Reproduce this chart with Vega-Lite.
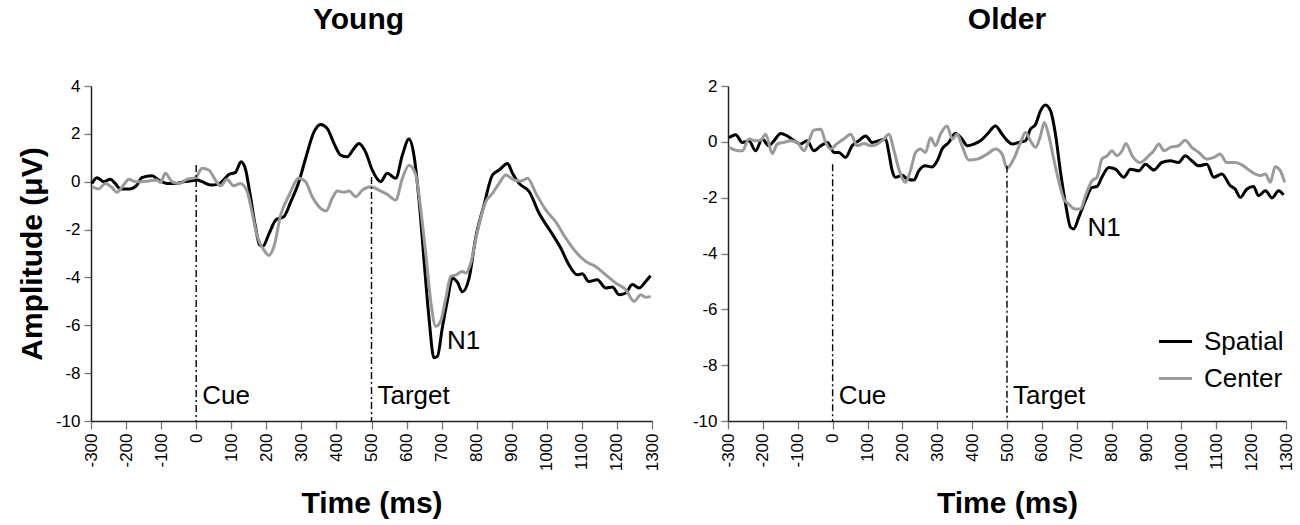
{
  "$schema": "https://vega.github.io/schema/vega-lite/v6.json",
  "background": "white",
  "padding": {"left": 17, "top": 5, "right": 4, "bottom": 0},
  "spacing": 32,
  "config": {
    "view": {"stroke": null},
    "font": "Liberation Sans",
    "title": {"fontSize": 30, "fontWeight": "bold", "offset": 42, "color": "black"},
    "axis": {
      "grid": false,
      "labelFont": "Liberation Sans",
      "labelFontSize": 17,
      "labelColor": "black",
      "labelOverlap": false,
      "labelFlush": false,
      "titleFont": "Liberation Sans",
      "titleFontSize": 30,
      "titleFontWeight": "bold",
      "titleColor": "black",
      "domainColor": "#222",
      "domainWidth": 1.5,
      "tickColor": "#777",
      "tickWidth": 1.3
    }
  },
  "resolve": {"scale": {"color": "independent"}},
  "datasets": {
    "erp": [
      {"g":"Young","c":"Spatial","t":-297,"a":-0.07},{"g":"Young","c":"Spatial","t":-283,"a":0.17},{"g":"Young","c":"Spatial","t":-264,"a":0},{"g":"Young","c":"Spatial","t":-245,"a":0.1},{"g":"Young","c":"Spatial","t":-231,"a":-0.07},{"g":"Young","c":"Spatial","t":-216,"a":-0.3},{"g":"Young","c":"Spatial","t":-188,"a":-0.3},{"g":"Young","c":"Spatial","t":-169,"a":-0.14},{"g":"Young","c":"Spatial","t":-155,"a":0.17},{"g":"Young","c":"Spatial","t":-126,"a":0.25},{"g":"Young","c":"Spatial","t":-107,"a":0.07},{"g":"Young","c":"Spatial","t":-83,"a":-0.07},{"g":"Young","c":"Spatial","t":-55,"a":-0.07},{"g":"Young","c":"Spatial","t":-36,"a":0},{"g":"Young","c":"Spatial","t":-17,"a":0.03},{"g":"Young","c":"Spatial","t":3,"a":0.07},{"g":"Young","c":"Spatial","t":17,"a":0},{"g":"Young","c":"Spatial","t":41,"a":-0.14},{"g":"Young","c":"Spatial","t":64,"a":-0.1},{"g":"Young","c":"Spatial","t":78,"a":0.07},{"g":"Young","c":"Spatial","t":93,"a":0.3},{"g":"Young","c":"Spatial","t":112,"a":0.39},{"g":"Young","c":"Spatial","t":128,"a":0.83},{"g":"Young","c":"Spatial","t":140,"a":0.55},{"g":"Young","c":"Spatial","t":154,"a":-0.55},{"g":"Young","c":"Spatial","t":168,"a":-1.8},{"g":"Young","c":"Spatial","t":181,"a":-2.64},{"g":"Young","c":"Spatial","t":190,"a":-2.7},{"g":"Young","c":"Spatial","t":207,"a":-2.2},{"g":"Young","c":"Spatial","t":227,"a":-1.6},{"g":"Young","c":"Spatial","t":250,"a":-1.46},{"g":"Young","c":"Spatial","t":270,"a":-0.83},{"g":"Young","c":"Spatial","t":293,"a":0},{"g":"Young","c":"Spatial","t":312,"a":0.97},{"g":"Young","c":"Spatial","t":336,"a":2.08},{"g":"Young","c":"Spatial","t":355,"a":2.39},{"g":"Young","c":"Spatial","t":374,"a":2.22},{"g":"Young","c":"Spatial","t":393,"a":1.6},{"g":"Young","c":"Spatial","t":412,"a":1.11},{"g":"Young","c":"Spatial","t":431,"a":1.04},{"g":"Young","c":"Spatial","t":450,"a":1.39},{"g":"Young","c":"Spatial","t":464,"a":1.6},{"g":"Young","c":"Spatial","t":483,"a":1.25},{"g":"Young","c":"Spatial","t":502,"a":0.49},{"g":"Young","c":"Spatial","t":526,"a":0},{"g":"Young","c":"Spatial","t":545,"a":0.35},{"g":"Young","c":"Spatial","t":569,"a":0.14},{"g":"Young","c":"Spatial","t":588,"a":1.11},{"g":"Young","c":"Spatial","t":607,"a":1.78},{"g":"Young","c":"Spatial","t":621,"a":1.11},{"g":"Young","c":"Spatial","t":636,"a":-0.83},{"g":"Young","c":"Spatial","t":650,"a":-3.33},{"g":"Young","c":"Spatial","t":664,"a":-5.7},{"g":"Young","c":"Spatial","t":678,"a":-7.36},{"g":"Young","c":"Spatial","t":688,"a":-7.3},{"g":"Young","c":"Spatial","t":702,"a":-6.1},{"g":"Young","c":"Spatial","t":716,"a":-5.0},{"g":"Young","c":"Spatial","t":731,"a":-4.03},{"g":"Young","c":"Spatial","t":745,"a":-4.2},{"g":"Young","c":"Spatial","t":759,"a":-4.6},{"g":"Young","c":"Spatial","t":778,"a":-4.05},{"g":"Young","c":"Spatial","t":797,"a":-2.36},{"g":"Young","c":"Spatial","t":821,"a":-0.97},{"g":"Young","c":"Spatial","t":845,"a":0.28},{"g":"Young","c":"Spatial","t":864,"a":0.49},{"g":"Young","c":"Spatial","t":888,"a":0.76},{"g":"Young","c":"Spatial","t":902,"a":0.35},{"g":"Young","c":"Spatial","t":921,"a":-0.07},{"g":"Young","c":"Spatial","t":950,"a":-0.42},{"g":"Young","c":"Spatial","t":978,"a":-1.32},{"g":"Young","c":"Spatial","t":1011,"a":-2.08},{"g":"Young","c":"Spatial","t":1040,"a":-2.78},{"g":"Young","c":"Spatial","t":1063,"a":-3.47},{"g":"Young","c":"Spatial","t":1087,"a":-3.89},{"g":"Young","c":"Spatial","t":1101,"a":-3.85},{"g":"Young","c":"Spatial","t":1120,"a":-4.17},{"g":"Young","c":"Spatial","t":1144,"a":-4.1},{"g":"Young","c":"Spatial","t":1168,"a":-4.44},{"g":"Young","c":"Spatial","t":1187,"a":-4.4},{"g":"Young","c":"Spatial","t":1206,"a":-4.72},{"g":"Young","c":"Spatial","t":1225,"a":-4.65},{"g":"Young","c":"Spatial","t":1244,"a":-4.3},{"g":"Young","c":"Spatial","t":1263,"a":-4.44},{"g":"Young","c":"Spatial","t":1282,"a":-4.17},{"g":"Young","c":"Spatial","t":1296,"a":-3.93},
      {"g":"Young","c":"Center","t":-297,"a":-0.21},{"g":"Young","c":"Center","t":-278,"a":-0.3},{"g":"Young","c":"Center","t":-259,"a":-0.07},{"g":"Young","c":"Center","t":-240,"a":-0.25},{"g":"Young","c":"Center","t":-226,"a":-0.44},{"g":"Young","c":"Center","t":-207,"a":-0.14},{"g":"Young","c":"Center","t":-192,"a":0.1},{"g":"Young","c":"Center","t":-174,"a":0},{"g":"Young","c":"Center","t":-155,"a":0},{"g":"Young","c":"Center","t":-135,"a":0.03},{"g":"Young","c":"Center","t":-112,"a":0.07},{"g":"Young","c":"Center","t":-102,"a":-0.03},{"g":"Young","c":"Center","t":-88,"a":0.35},{"g":"Young","c":"Center","t":-69,"a":0},{"g":"Young","c":"Center","t":-50,"a":-0.07},{"g":"Young","c":"Center","t":-26,"a":0.1},{"g":"Young","c":"Center","t":-2,"a":0.17},{"g":"Young","c":"Center","t":17,"a":0.56},{"g":"Young","c":"Center","t":36,"a":0.49},{"g":"Young","c":"Center","t":55,"a":0.07},{"g":"Young","c":"Center","t":69,"a":-0.17},{"g":"Young","c":"Center","t":88,"a":0.1},{"g":"Young","c":"Center","t":107,"a":-0.17},{"g":"Young","c":"Center","t":126,"a":-0.07},{"g":"Young","c":"Center","t":145,"a":-0.39},{"g":"Young","c":"Center","t":159,"a":-1.25},{"g":"Young","c":"Center","t":173,"a":-2.22},{"g":"Young","c":"Center","t":193,"a":-2.85},{"g":"Young","c":"Center","t":207,"a":-3.08},{"g":"Young","c":"Center","t":222,"a":-2.7},{"g":"Young","c":"Center","t":241,"a":-1.39},{"g":"Young","c":"Center","t":265,"a":-0.56},{"g":"Young","c":"Center","t":293,"a":0.14},{"g":"Young","c":"Center","t":312,"a":0},{"g":"Young","c":"Center","t":331,"a":-0.63},{"g":"Young","c":"Center","t":350,"a":-1.04},{"g":"Young","c":"Center","t":371,"a":-1.22},{"g":"Young","c":"Center","t":388,"a":-0.69},{"g":"Young","c":"Center","t":403,"a":-0.39},{"g":"Young","c":"Center","t":422,"a":-0.44},{"g":"Young","c":"Center","t":436,"a":-0.39},{"g":"Young","c":"Center","t":455,"a":-0.63},{"g":"Young","c":"Center","t":474,"a":-0.35},{"g":"Young","c":"Center","t":498,"a":-0.21},{"g":"Young","c":"Center","t":521,"a":-0.35},{"g":"Young","c":"Center","t":545,"a":-0.53},{"g":"Young","c":"Center","t":569,"a":-0.76},{"g":"Young","c":"Center","t":588,"a":0.14},{"g":"Young","c":"Center","t":607,"a":0.69},{"g":"Young","c":"Center","t":626,"a":0.3},{"g":"Young","c":"Center","t":640,"a":-1.11},{"g":"Young","c":"Center","t":655,"a":-3.05},{"g":"Young","c":"Center","t":669,"a":-5.0},{"g":"Young","c":"Center","t":683,"a":-6.04},{"g":"Young","c":"Center","t":697,"a":-5.83},{"g":"Young","c":"Center","t":712,"a":-4.86},{"g":"Young","c":"Center","t":726,"a":-3.96},{"g":"Young","c":"Center","t":740,"a":-3.9},{"g":"Young","c":"Center","t":759,"a":-3.75},{"g":"Young","c":"Center","t":769,"a":-3.82},{"g":"Young","c":"Center","t":783,"a":-3.4},{"g":"Young","c":"Center","t":802,"a":-2.08},{"g":"Young","c":"Center","t":826,"a":-0.83},{"g":"Young","c":"Center","t":845,"a":-0.49},{"g":"Young","c":"Center","t":864,"a":-0.07},{"g":"Young","c":"Center","t":883,"a":0.28},{"g":"Young","c":"Center","t":907,"a":0.07},{"g":"Young","c":"Center","t":926,"a":0.03},{"g":"Young","c":"Center","t":945,"a":0.14},{"g":"Young","c":"Center","t":969,"a":-0.49},{"g":"Young","c":"Center","t":997,"a":-1.18},{"g":"Young","c":"Center","t":1025,"a":-1.67},{"g":"Young","c":"Center","t":1054,"a":-2.36},{"g":"Young","c":"Center","t":1082,"a":-2.92},{"g":"Young","c":"Center","t":1111,"a":-3.33},{"g":"Young","c":"Center","t":1139,"a":-3.54},{"g":"Young","c":"Center","t":1168,"a":-3.89},{"g":"Young","c":"Center","t":1197,"a":-4.24},{"g":"Young","c":"Center","t":1225,"a":-4.51},{"g":"Young","c":"Center","t":1249,"a":-5.0},{"g":"Young","c":"Center","t":1268,"a":-4.72},{"g":"Young","c":"Center","t":1282,"a":-4.83},{"g":"Young","c":"Center","t":1296,"a":-4.79},
      {"g":"Older","c":"Spatial","t":-297,"a":0.15},{"g":"Older","c":"Spatial","t":-278,"a":0.25},{"g":"Older","c":"Spatial","t":-259,"a":-0.02},{"g":"Older","c":"Spatial","t":-240,"a":0.04},{"g":"Older","c":"Spatial","t":-221,"a":-0.32},{"g":"Older","c":"Spatial","t":-202,"a":0.1},{"g":"Older","c":"Spatial","t":-183,"a":-0.14},{"g":"Older","c":"Spatial","t":-168,"a":0.04},{"g":"Older","c":"Spatial","t":-149,"a":0.3},{"g":"Older","c":"Spatial","t":-130,"a":0.21},{"g":"Older","c":"Spatial","t":-111,"a":0.05},{"g":"Older","c":"Spatial","t":-92,"a":-0.08},{"g":"Older","c":"Spatial","t":-73,"a":0.04},{"g":"Older","c":"Spatial","t":-54,"a":-0.32},{"g":"Older","c":"Spatial","t":-34,"a":-0.14},{"g":"Older","c":"Spatial","t":-15,"a":-0.02},{"g":"Older","c":"Spatial","t":4,"a":-0.38},{"g":"Older","c":"Spatial","t":18,"a":-0.38},{"g":"Older","c":"Spatial","t":37,"a":-0.56},{"g":"Older","c":"Spatial","t":56,"a":-0.14},{"g":"Older","c":"Spatial","t":75,"a":0.04},{"g":"Older","c":"Spatial","t":95,"a":0.21},{"g":"Older","c":"Spatial","t":113,"a":-0.02},{"g":"Older","c":"Spatial","t":133,"a":0.04},{"g":"Older","c":"Spatial","t":152,"a":0.1},{"g":"Older","c":"Spatial","t":161,"a":-0.38},{"g":"Older","c":"Spatial","t":171,"a":-1.04},{"g":"Older","c":"Spatial","t":180,"a":-1.27},{"g":"Older","c":"Spatial","t":199,"a":-1.2},{"g":"Older","c":"Spatial","t":214,"a":-1.33},{"g":"Older","c":"Spatial","t":233,"a":-1.37},{"g":"Older","c":"Spatial","t":247,"a":-1.04},{"g":"Older","c":"Spatial","t":266,"a":-0.86},{"g":"Older","c":"Spatial","t":285,"a":-0.9},{"g":"Older","c":"Spatial","t":300,"a":-0.68},{"g":"Older","c":"Spatial","t":314,"a":-0.26},{"g":"Older","c":"Spatial","t":333,"a":-0.02},{"g":"Older","c":"Spatial","t":352,"a":0.3},{"g":"Older","c":"Spatial","t":371,"a":0.1},{"g":"Older","c":"Spatial","t":386,"a":-0.14},{"g":"Older","c":"Spatial","t":405,"a":-0.08},{"g":"Older","c":"Spatial","t":424,"a":0.04},{"g":"Older","c":"Spatial","t":443,"a":0.27},{"g":"Older","c":"Spatial","t":467,"a":0.57},{"g":"Older","c":"Spatial","t":486,"a":0.27},{"g":"Older","c":"Spatial","t":500,"a":0.05},{"g":"Older","c":"Spatial","t":515,"a":-0.08},{"g":"Older","c":"Spatial","t":534,"a":-0.02},{"g":"Older","c":"Spatial","t":553,"a":0.04},{"g":"Older","c":"Spatial","t":567,"a":0.45},{"g":"Older","c":"Spatial","t":582,"a":0.63},{"g":"Older","c":"Spatial","t":596,"a":1.11},{"g":"Older","c":"Spatial","t":610,"a":1.32},{"g":"Older","c":"Spatial","t":625,"a":1.11},{"g":"Older","c":"Spatial","t":639,"a":0.27},{"g":"Older","c":"Spatial","t":653,"a":-1.04},{"g":"Older","c":"Spatial","t":668,"a":-2.23},{"g":"Older","c":"Spatial","t":682,"a":-3.06},{"g":"Older","c":"Spatial","t":691,"a":-3.12},{"g":"Older","c":"Spatial","t":706,"a":-2.7},{"g":"Older","c":"Spatial","t":725,"a":-2.1},{"g":"Older","c":"Spatial","t":744,"a":-1.63},{"g":"Older","c":"Spatial","t":758,"a":-1.6},{"g":"Older","c":"Spatial","t":772,"a":-1.27},{"g":"Older","c":"Spatial","t":792,"a":-0.92},{"g":"Older","c":"Spatial","t":811,"a":-0.98},{"g":"Older","c":"Spatial","t":835,"a":-1.27},{"g":"Older","c":"Spatial","t":854,"a":-0.98},{"g":"Older","c":"Spatial","t":878,"a":-1.04},{"g":"Older","c":"Spatial","t":897,"a":-0.8},{"g":"Older","c":"Spatial","t":921,"a":-1.01},{"g":"Older","c":"Spatial","t":944,"a":-0.74},{"g":"Older","c":"Spatial","t":968,"a":-0.68},{"g":"Older","c":"Spatial","t":992,"a":-0.74},{"g":"Older","c":"Spatial","t":1011,"a":-0.5},{"g":"Older","c":"Spatial","t":1030,"a":-0.68},{"g":"Older","c":"Spatial","t":1050,"a":-0.86},{"g":"Older","c":"Spatial","t":1073,"a":-0.8},{"g":"Older","c":"Spatial","t":1093,"a":-1.27},{"g":"Older","c":"Spatial","t":1116,"a":-1.15},{"g":"Older","c":"Spatial","t":1140,"a":-1.57},{"g":"Older","c":"Spatial","t":1154,"a":-1.69},{"g":"Older","c":"Spatial","t":1169,"a":-1.99},{"g":"Older","c":"Spatial","t":1188,"a":-1.69},{"g":"Older","c":"Spatial","t":1207,"a":-1.6},{"g":"Older","c":"Spatial","t":1221,"a":-1.93},{"g":"Older","c":"Spatial","t":1241,"a":-1.75},{"g":"Older","c":"Spatial","t":1260,"a":-2.01},{"g":"Older","c":"Spatial","t":1279,"a":-1.75},{"g":"Older","c":"Spatial","t":1293,"a":-1.9},
      {"g":"Older","c":"Center","t":-297,"a":-0.2},{"g":"Older","c":"Center","t":-278,"a":-0.3},{"g":"Older","c":"Center","t":-259,"a":-0.32},{"g":"Older","c":"Center","t":-240,"a":0.1},{"g":"Older","c":"Center","t":-221,"a":0.04},{"g":"Older","c":"Center","t":-206,"a":0.06},{"g":"Older","c":"Center","t":-192,"a":0.27},{"g":"Older","c":"Center","t":-173,"a":-0.42},{"g":"Older","c":"Center","t":-159,"a":-0.08},{"g":"Older","c":"Center","t":-140,"a":-0.02},{"g":"Older","c":"Center","t":-120,"a":0.04},{"g":"Older","c":"Center","t":-101,"a":-0.02},{"g":"Older","c":"Center","t":-82,"a":-0.32},{"g":"Older","c":"Center","t":-68,"a":0.04},{"g":"Older","c":"Center","t":-54,"a":0.42},{"g":"Older","c":"Center","t":-34,"a":0.45},{"g":"Older","c":"Center","t":-20,"a":-0.02},{"g":"Older","c":"Center","t":-6,"a":-0.26},{"g":"Older","c":"Center","t":13,"a":-0.06},{"g":"Older","c":"Center","t":32,"a":0.1},{"g":"Older","c":"Center","t":52,"a":0.27},{"g":"Older","c":"Center","t":70,"a":-0.14},{"g":"Older","c":"Center","t":90,"a":-0.06},{"g":"Older","c":"Center","t":109,"a":-0.14},{"g":"Older","c":"Center","t":128,"a":-0.08},{"g":"Older","c":"Center","t":147,"a":0.1},{"g":"Older","c":"Center","t":161,"a":0.27},{"g":"Older","c":"Center","t":176,"a":-0.32},{"g":"Older","c":"Center","t":190,"a":-0.98},{"g":"Older","c":"Center","t":209,"a":-1.45},{"g":"Older","c":"Center","t":223,"a":-1.04},{"g":"Older","c":"Center","t":238,"a":-0.38},{"g":"Older","c":"Center","t":252,"a":-0.26},{"g":"Older","c":"Center","t":266,"a":-0.38},{"g":"Older","c":"Center","t":281,"a":0.15},{"g":"Older","c":"Center","t":295,"a":-0.14},{"g":"Older","c":"Center","t":309,"a":0.27},{"g":"Older","c":"Center","t":328,"a":0.57},{"g":"Older","c":"Center","t":343,"a":0.1},{"g":"Older","c":"Center","t":357,"a":0.27},{"g":"Older","c":"Center","t":371,"a":-0.14},{"g":"Older","c":"Center","t":390,"a":-0.65},{"g":"Older","c":"Center","t":414,"a":-0.62},{"g":"Older","c":"Center","t":443,"a":-0.44},{"g":"Older","c":"Center","t":467,"a":-0.26},{"g":"Older","c":"Center","t":486,"a":-0.44},{"g":"Older","c":"Center","t":500,"a":-0.95},{"g":"Older","c":"Center","t":519,"a":-0.62},{"g":"Older","c":"Center","t":539,"a":-0.02},{"g":"Older","c":"Center","t":553,"a":0.33},{"g":"Older","c":"Center","t":567,"a":0.04},{"g":"Older","c":"Center","t":582,"a":-0.2},{"g":"Older","c":"Center","t":596,"a":0.21},{"g":"Older","c":"Center","t":607,"a":0.69},{"g":"Older","c":"Center","t":620,"a":0.21},{"g":"Older","c":"Center","t":634,"a":-0.62},{"g":"Older","c":"Center","t":648,"a":-1.39},{"g":"Older","c":"Center","t":663,"a":-2.05},{"g":"Older","c":"Center","t":677,"a":-2.23},{"g":"Older","c":"Center","t":696,"a":-2.41},{"g":"Older","c":"Center","t":711,"a":-2.41},{"g":"Older","c":"Center","t":725,"a":-1.93},{"g":"Older","c":"Center","t":744,"a":-1.39},{"g":"Older","c":"Center","t":758,"a":-1.27},{"g":"Older","c":"Center","t":772,"a":-0.62},{"g":"Older","c":"Center","t":787,"a":-0.5},{"g":"Older","c":"Center","t":801,"a":-0.32},{"g":"Older","c":"Center","t":815,"a":-0.5},{"g":"Older","c":"Center","t":830,"a":-0.32},{"g":"Older","c":"Center","t":841,"a":-0.06},{"g":"Older","c":"Center","t":859,"a":-0.5},{"g":"Older","c":"Center","t":882,"a":-0.74},{"g":"Older","c":"Center","t":906,"a":-0.5},{"g":"Older","c":"Center","t":921,"a":-0.32},{"g":"Older","c":"Center","t":935,"a":-0.08},{"g":"Older","c":"Center","t":950,"a":-0.32},{"g":"Older","c":"Center","t":968,"a":-0.2},{"g":"Older","c":"Center","t":992,"a":-0.14},{"g":"Older","c":"Center","t":1011,"a":0.06},{"g":"Older","c":"Center","t":1030,"a":-0.2},{"g":"Older","c":"Center","t":1050,"a":-0.38},{"g":"Older","c":"Center","t":1073,"a":-0.62},{"g":"Older","c":"Center","t":1093,"a":-0.56},{"g":"Older","c":"Center","t":1111,"a":-0.44},{"g":"Older","c":"Center","t":1130,"a":-0.74},{"g":"Older","c":"Center","t":1154,"a":-0.74},{"g":"Older","c":"Center","t":1178,"a":-0.86},{"g":"Older","c":"Center","t":1197,"a":-1.04},{"g":"Older","c":"Center","t":1211,"a":-1.15},{"g":"Older","c":"Center","t":1226,"a":-1.21},{"g":"Older","c":"Center","t":1241,"a":-1.15},{"g":"Older","c":"Center","t":1255,"a":-1.45},{"g":"Older","c":"Center","t":1269,"a":-0.89},{"g":"Older","c":"Center","t":1284,"a":-1.04},{"g":"Older","c":"Center","t":1296,"a":-1.45}
    ],
    "events": [
      {"g":"Young","t":0,"top":0.7,"label":"Cue","ly":-8.95},
      {"g":"Young","t":500,"top":0.2,"label":"Target","ly":-8.95},
      {"g":"Older","t":0,"top":-0.8,"label":"Cue","ly":-9.1},
      {"g":"Older","t":500,"top":-0.86,"label":"Target","ly":-9.1}
    ],
    "peaks": [
      {"g":"Young","t":715,"a":-6.67,"label":"N1"},
      {"g":"Older","t":731,"a":-3.07,"label":"N1"}
    ]
  },
  "hconcat": [
    {
      "width": 561,
      "height": 335,
      "title": {"text": "Young", "dx": -13},
      "encoding": {
        "x": {
          "field": "t", "type": "quantitative",
          "scale": {"domain": [-300, 1300], "nice": false, "zero": false},
          "axis": {"title": "Time (ms)", "labelExpr": "datum.value + ''", "labelOverlap": false, "values": [-300,-200,-100,0,100,200,300,400,500,600,700,800,900,1000,1100,1200,1300], "labelAngle": 270, "tickSize": 8, "labelPadding": 4, "titlePadding": 18}
        },
        "y": {
          "field": "a", "type": "quantitative",
          "scale": {"domain": [-10, 4], "nice": false},
          "axis": {"title": "Amplitude (μV)", "labelExpr": "datum.value + ''", "labelOverlap": false, "values": [-10,-8,-6,-4,-2,0,2,4], "tickSize": 7, "labelPadding": 4, "titlePadding": 8}
        }
      },
      "layer": [
        {
          "data": {"name": "erp"},
          "transform": [{"filter": "datum.g === 'Young'"}],
          "mark": {"type": "line", "strokeWidth": 3, "interpolate": "monotone"},
          "encoding": {
            "color": {
              "field": "c", "type": "nominal",
              "scale": {"domain": ["Spatial", "Center"], "range": ["#000000", "#9a9a9a"]},
              "legend": null
            }
          }
        },
        {
          "data": {"name": "events"},
          "transform": [{"filter": "datum.g === 'Young'"}],
          "mark": {"type": "rule", "color": "black", "strokeWidth": 1.4, "strokeDash": [7, 3, 2, 3]},
          "encoding": {
            "y": {"field": "top", "type": "quantitative"},
            "y2": {"datum": -10}
          }
        },
        {
          "data": {"name": "events"},
          "transform": [{"filter": "datum.g === 'Young'"}],
          "mark": {"type": "text", "align": "left", "baseline": "middle", "dx": 6, "fontSize": 26, "font": "Liberation Sans"},
          "encoding": {
            "y": {"field": "ly", "type": "quantitative"},
            "text": {"field": "label"}
          }
        },
        {
          "data": {"name": "peaks"},
          "transform": [{"filter": "datum.g === 'Young'"}],
          "mark": {"type": "text", "align": "left", "baseline": "middle", "fontSize": 26, "font": "Liberation Sans"},
          "encoding": {
            "text": {"field": "label"}
          }
        }
      ]
    },
    {
      "width": 558,
      "height": 335,
      "title": "Older",
      "encoding": {
        "x": {
          "field": "t", "type": "quantitative",
          "scale": {"domain": [-300, 1300], "nice": false, "zero": false},
          "axis": {"title": "Time (ms)", "labelExpr": "datum.value + ''", "labelOverlap": false, "values": [-300,-200,-100,0,100,200,300,400,500,600,700,800,900,1000,1100,1200,1300], "labelAngle": 270, "tickSize": 8, "labelPadding": 4, "titlePadding": 18}
        },
        "y": {
          "field": "a", "type": "quantitative",
          "scale": {"domain": [-10, 2], "nice": false},
          "axis": {"title": null, "labelExpr": "datum.value + ''", "labelOverlap": false, "values": [-10,-8,-6,-4,-2,0,2], "tickSize": 7, "labelPadding": 4}
        }
      },
      "layer": [
        {
          "data": {"name": "erp"},
          "transform": [{"filter": "datum.g === 'Older'"}],
          "mark": {"type": "line", "strokeWidth": 3, "interpolate": "monotone"},
          "encoding": {
            "color": {
              "field": "c", "type": "nominal",
              "scale": {"domain": ["Spatial", "Center"], "range": ["#000000", "#9a9a9a"]},
              "legend": {
                "title": null, "orient": "none", "legendX": 429, "legendY": 237,
                "symbolType": "stroke", "symbolStrokeWidth": 3, "symbolSize": 1100,
                "labelFontSize": 26, "labelFont": "Liberation Sans", "labelColor": "black",
                "labelOffset": 10, "rowPadding": 5
              }
            }
          }
        },
        {
          "data": {"name": "events"},
          "transform": [{"filter": "datum.g === 'Older'"}],
          "mark": {"type": "rule", "color": "black", "strokeWidth": 1.4, "strokeDash": [7, 3, 2, 3]},
          "encoding": {
            "y": {"field": "top", "type": "quantitative"},
            "y2": {"datum": -10}
          }
        },
        {
          "data": {"name": "events"},
          "transform": [{"filter": "datum.g === 'Older'"}],
          "mark": {"type": "text", "align": "left", "baseline": "middle", "dx": 6, "fontSize": 26, "font": "Liberation Sans"},
          "encoding": {
            "y": {"field": "ly", "type": "quantitative"},
            "text": {"field": "label"}
          }
        },
        {
          "data": {"name": "peaks"},
          "transform": [{"filter": "datum.g === 'Older'"}],
          "mark": {"type": "text", "align": "left", "baseline": "middle", "fontSize": 26, "font": "Liberation Sans"},
          "encoding": {
            "text": {"field": "label"}
          }
        }
      ]
    }
  ]
}
